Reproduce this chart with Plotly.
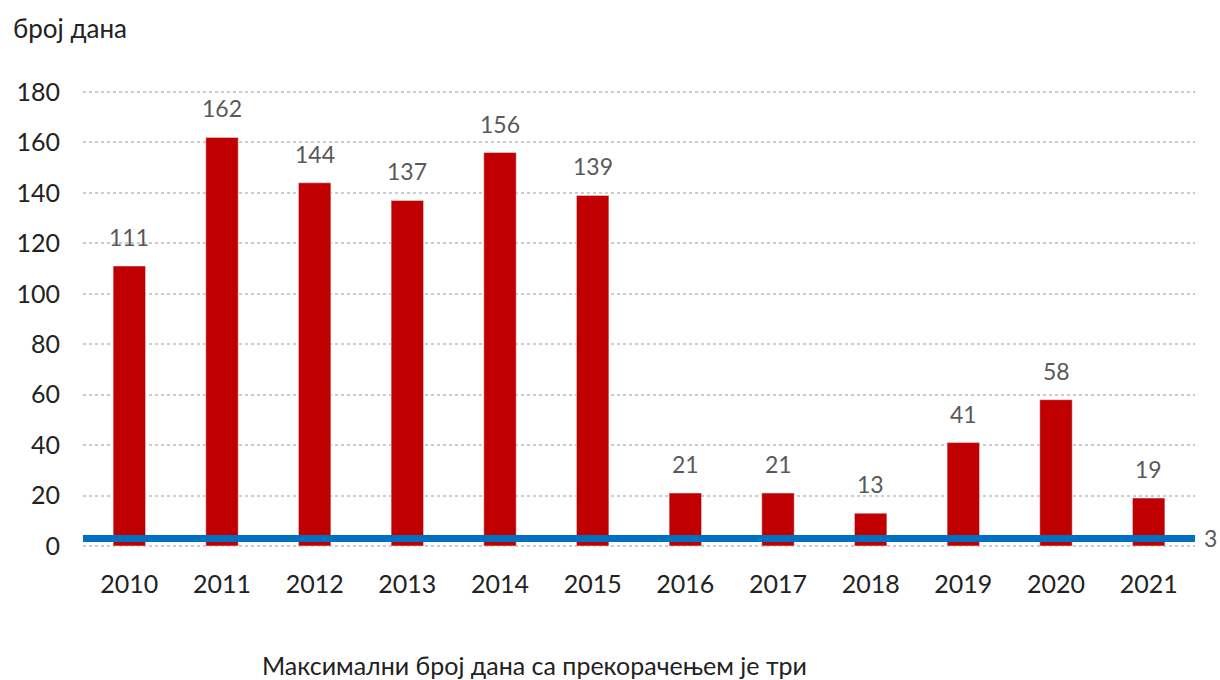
import plotly.graph_objects as go

years = ['2010', '2011', '2012', '2013', '2014', '2015',
         '2016', '2017', '2018', '2019', '2020', '2021']
days = [111, 162, 144, 137, 156, 139, 21, 21, 13, 41, 58, 19]
limit = 3
y_title = 'број дана'
note = 'Максимални број дана са прекорачењем је три'

font = 'Lato, "Open Sans", sans-serif'

fig = go.Figure()
fig.add_trace(go.Bar(x=years, y=days,
                     marker_color='#C00000',
                     cliponaxis=False))

# value labels, lifted above the bars (x as category index, since the
# year strings look numeric to the category axis)
for i, d in enumerate(days):
    fig.add_annotation(x=i, y=d, text=str(d), showarrow=False,
                       yanchor='bottom', yshift=13,
                       font=dict(size=23, color='#595959'))

# limit line across the whole plot
fig.add_shape(type='line', xref='paper', yref='y',
              x0=0, x1=1, y0=limit, y1=limit,
              line=dict(color='#0070C0', width=7))

fig.add_annotation(xref='paper', yref='y', x=1.006, y=limit,
                   text=str(limit), showarrow=False, xanchor='left',
                   font=dict(size=23, color='#595959'))
fig.add_annotation(xref='paper', yref='paper', x=-0.065, y=1.138,
                   text=y_title, showarrow=False, xanchor='left', yanchor='middle',
                   font=dict(size=26, color='#222'))
fig.add_annotation(xref='paper', yref='paper', x=0.406, y=-0.259,
                   text=note, showarrow=False, xanchor='center', yanchor='middle',
                   font=dict(size=25, color='#222'))

fig.update_layout(width=1220, height=680,
                  margin=dict(l=83, r=25, t=91, b=133),
                  plot_bgcolor='white', paper_bgcolor='white',
                  font=dict(family=font, size=22, color='#222'),
                  bargap=0.65, showlegend=False)

fig.update_yaxes(range=[-0.4, 180.4], tickvals=list(range(0, 181, 20)),
                 showgrid=True, gridcolor='#cccccc', griddash='dot', gridwidth=1.5,
                 zeroline=False, ticklabelstandoff=22,
                 tickfont=dict(size=25, color='#222'))
fig.update_xaxes(type='category', range=[-0.5, len(years) - 0.5],
                 showgrid=False, ticklabelstandoff=20,
                 tickfont=dict(size=25, color='#222'))

# drop the default body margin so the figure fills the window exactly
fig.write_html("out.html", config={'displayModeBar': False},
               post_script="document.body.style.margin='0';"
                           "document.body.style.overflow='hidden';")
